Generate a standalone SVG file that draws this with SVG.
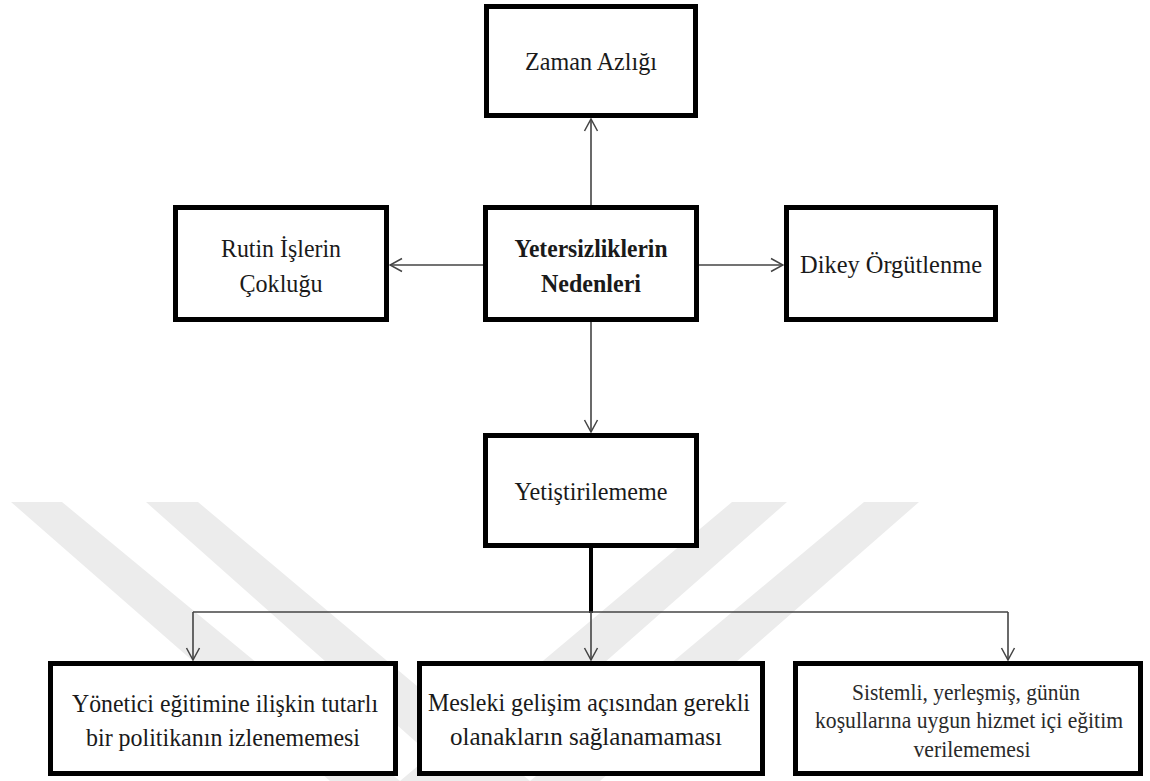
<svg xmlns="http://www.w3.org/2000/svg" width="1150" height="781" viewBox="0 0 1150 781">
  <defs>
    <marker id="arrow" markerUnits="userSpaceOnUse" markerWidth="14" markerHeight="16" viewBox="0 0 14 16" refX="13" refY="8" orient="auto">
      <path d="M1,1.5 L13,8 L1,14.5" fill="none" stroke="#444" stroke-width="1.5"/>
    </marker>
  </defs>
  <style>
    .box { fill: #ffffff; stroke: #000000; stroke-width: 5; }
    .lbl { font-family: "Liberation Serif", "Times New Roman", serif; font-size: 26px; fill: #1a1a1a; text-anchor: middle; }
    .bold { font-weight: bold; }
    .small { font-size: 23px; fill: #2a2a2a; }
    .link { fill: none; stroke: #444; stroke-width: 1.6; }
    .trunk { fill: none; stroke: #000; stroke-width: 4; }
    .mark { fill: #ececec; }
  </style>

  <rect width="1150" height="781" fill="#ffffff"/>

  <!-- faint background emblem -->
  <g id="emblem">
    <polygon class="mark" points="11,502 62,502 400,781 330,781"/>
    <polygon class="mark" points="146,502 198,502 530,781 460,781"/>
    <polygon class="mark" points="732,502 787,502 470,781 400,781"/>
    <polygon class="mark" points="864,502 919,502 600,781 530,781"/>
  </g>

  <!-- connectors -->
  <g id="connectors">
    <line class="link" x1="591" y1="205" x2="591" y2="119" marker-end="url(#arrow)"/>
    <line class="link" x1="483" y1="265" x2="390" y2="265" marker-end="url(#arrow)"/>
    <line class="link" x1="699" y1="265" x2="783" y2="265" marker-end="url(#arrow)"/>
    <line class="link" x1="591" y1="322" x2="591" y2="432" marker-end="url(#arrow)"/>
    <line class="trunk" x1="591" y1="548" x2="591" y2="613"/>
    <line class="link" x1="193" y1="612" x2="1008" y2="612"/>
    <line class="link" x1="193" y1="612" x2="193" y2="660" marker-end="url(#arrow)"/>
    <line class="link" x1="591" y1="612" x2="591" y2="660" marker-end="url(#arrow)"/>
    <line class="link" x1="1008" y1="612" x2="1008" y2="660" marker-end="url(#arrow)"/>
  </g>

  <g id="zaman">
    <rect class="box" x="486.5" y="6.5" width="209" height="109"/>
    <text class="lbl" x="591" y="70" textLength="132" lengthAdjust="spacingAndGlyphs">Zaman Azlığı</text>
  </g>

  <g id="rutin">
    <rect class="box" x="175.5" y="207.5" width="211" height="112"/>
    <text class="lbl" x="281" y="257" textLength="120" lengthAdjust="spacingAndGlyphs">Rutin İşlerin</text>
    <text class="lbl" x="281" y="292" textLength="83" lengthAdjust="spacingAndGlyphs">Çokluğu</text>
  </g>

  <g id="nedenler">
    <rect class="box" x="485.5" y="207.5" width="211" height="112"/>
    <text class="lbl bold" x="591" y="257" textLength="153" lengthAdjust="spacingAndGlyphs">Yetersizliklerin</text>
    <text class="lbl bold" x="591" y="292" textLength="100" lengthAdjust="spacingAndGlyphs">Nedenleri</text>
  </g>

  <g id="dikey">
    <rect class="box" x="786.5" y="207.5" width="209" height="112"/>
    <text class="lbl" x="891" y="273" textLength="182" lengthAdjust="spacingAndGlyphs">Dikey Örgütlenme</text>
  </g>

  <g id="yetistirilememe">
    <rect class="box" x="485.5" y="435.5" width="211" height="110"/>
    <text class="lbl" x="591" y="500" textLength="153" lengthAdjust="spacingAndGlyphs">Yetiştirilememe</text>
  </g>

  <g id="politika">
    <rect class="box" x="50.5" y="663.5" width="345" height="110"/>
    <text class="lbl" x="225" y="712" textLength="306" lengthAdjust="spacingAndGlyphs">Yönetici eğitimine ilişkin tutarlı</text>
    <text class="lbl" x="223" y="746" textLength="274" lengthAdjust="spacingAndGlyphs">bir politikanın izlenememesi</text>
  </g>

  <g id="olanaklar">
    <rect class="box" x="419.5" y="663.5" width="343" height="110"/>
    <text class="lbl" x="589" y="711" textLength="322" lengthAdjust="spacingAndGlyphs">Mesleki gelişim açısından gerekli</text>
    <text class="lbl" x="586" y="745" textLength="272" lengthAdjust="spacingAndGlyphs">olanakların sağlanamaması</text>
  </g>

  <g id="hizmetici">
    <rect class="box" x="795.5" y="663.5" width="345" height="110"/>
    <text class="lbl small" x="966" y="700" textLength="228" lengthAdjust="spacingAndGlyphs">Sistemli, yerleşmiş, günün</text>
    <text class="lbl small" x="969" y="728" textLength="308" lengthAdjust="spacingAndGlyphs">koşullarına uygun hizmet içi eğitim</text>
    <text class="lbl small" x="972" y="757" textLength="117" lengthAdjust="spacingAndGlyphs">verilememesi</text>
  </g>
</svg>
